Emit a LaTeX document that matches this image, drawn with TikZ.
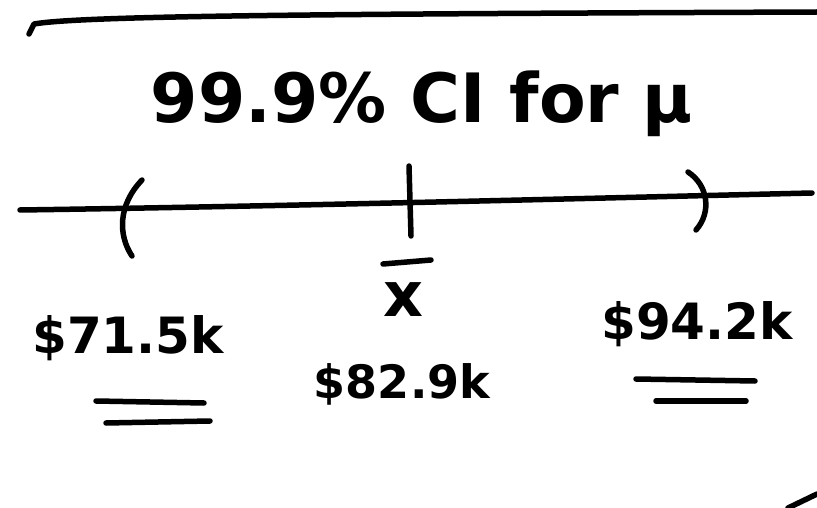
\documentclass[tikz,border=0pt]{standalone}
\usepackage{fontspec}
\setmainfont{DejaVu Sans}
\begin{document}
\begin{tikzpicture}[x=1pt,y=-1pt,
  ink/.style={line width=5.5pt,line cap=round,line join=round},
  title/.style={font=\bfseries\fontsize{68}{70}\selectfont,inner sep=0pt},
  val/.style={font=\bfseries\fontsize{50}{52}\selectfont,inner sep=0pt}]
\useasboundingbox[fill=white] (0,0) rectangle (817,508);
% frame strokes
\coordinate (tlA) at (29,34);
\coordinate (tlB) at (34,24);
\coordinate (tlC) at (817,12);
\draw[ink] (tlA) -- (tlB) .. controls (80,16) and (300,14) .. (tlC);
\coordinate (brA) at (788,508);
\coordinate (brB) at (817,494);
\draw[ink] (brA) -- (brB);
% title
\node[title] (ttl) at (422,104) {99.9\% CI for μ};
% axis
\coordinate (axL) at (20,210);
\coordinate (axR) at (812,193);
\draw[ink] (axL) .. controls (300,206) and (600,198) .. (axR);
% parentheses
\coordinate (lpA) at (142,180);
\coordinate (lpB) at (132,256);
\draw[ink] (lpA) .. controls (118,205) and (118,235) .. (lpB);
\coordinate (rpA) at (688,172);
\coordinate (rpB) at (696,230);
\draw[ink] (rpA) .. controls (708,185) and (712,212) .. (rpB);
% tick
\coordinate (tkA) at (409,166);
\coordinate (tkB) at (411,236);
\draw[ink] (tkA) -- (tkB);
% x bar
\coordinate (xbA) at (383,264);
\coordinate (xbB) at (431,260);
\draw[ink] (xbA) -- (xbB);
\node[val,font=\bfseries\fontsize{62}{64}\selectfont] (xb) at (403,300) {x};
% values
\node[val] (lo) at (128,338) {\$71.5k};
\node[val,font=\bfseries\fontsize{46}{48}\selectfont] (mid) at (402,384) {\$82.9k};
\node[val] (hi) at (697,324) {\$94.2k};
% underlines
\coordinate (u1a) at (96,401); \coordinate (u1b) at (204,403);
\coordinate (u2a) at (106,423); \coordinate (u2b) at (210,421);
\coordinate (u3a) at (636,379); \coordinate (u3b) at (755,381);
\coordinate (u4a) at (656,401); \coordinate (u4b) at (746,401);
\draw[ink] (u1a) -- (u1b);
\draw[ink] (u2a) -- (u2b);
\draw[ink] (u3a) -- (u3b);
\draw[ink] (u4a) -- (u4b);
\end{tikzpicture}
\end{document}
